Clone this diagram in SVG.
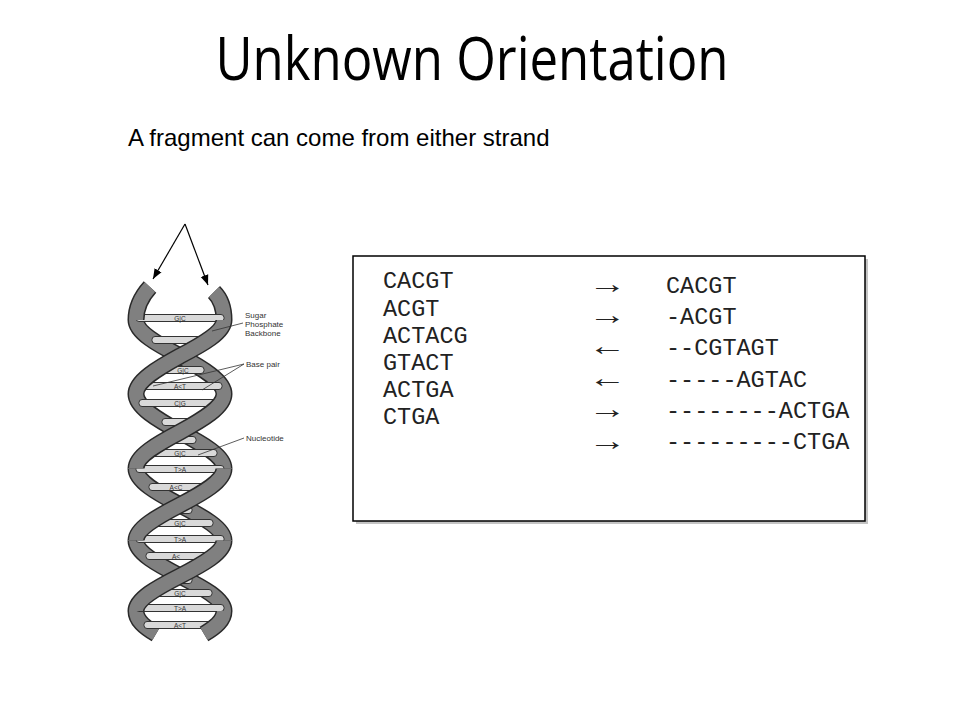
<svg xmlns="http://www.w3.org/2000/svg" width="960" height="720" viewBox="0 0 960 720">
<defs>
<style>
.title{font-family:"Open Sans","Liberation Sans",sans-serif;font-size:60px;fill:#000}
.sub{font-family:"Liberation Sans",Arial,sans-serif;font-size:24px;fill:#000}
.mono{font-family:"Liberation Mono","Courier New",monospace;font-size:23.5px;fill:#222}
.arr{font-family:"Liberation Serif","DejaVu Serif",serif;font-size:27px;fill:#222}
.ro{fill:none;stroke:#2a2a2a;stroke-width:17}
.ri{fill:none;stroke:#808080;stroke-width:14}
.bar{fill:#d9d9d9;stroke:#333;stroke-width:1}
.bl{font-family:"Liberation Sans",Arial,sans-serif;font-size:6.5px;fill:#333;text-anchor:middle}
.lab{font-family:"Liberation Sans",Arial,sans-serif;font-size:8px;fill:#333}
.lead{stroke:#333;stroke-width:0.8;fill:none}
.conn{stroke:#000;stroke-width:1.2;fill:none}
</style>
<marker id="ah" viewBox="0 0 10 10" refX="10" refY="5" markerWidth="10" markerHeight="10" markerUnits="userSpaceOnUse" orient="auto">
<path d="M0,1 L10,5 L0,9 z" fill="#000"/>
</marker>
<path id="b0" d="M214,292 C222,300 224,310 224,320"/>
<path id="b1" d="M136,320 C136,332.4 157.5,344.3 180,356 C202.5,368.4 224,380.9 224,394"/>
<path id="b2" d="M136,394 C136,407.1 157.5,419.6 180,432 C202.5,443.9 224,455.9 224,468.5"/>
<path id="b3" d="M136,468.5 C136,481.1 157.5,493.1 180,505 C202.5,516.6 224,528.3 224,540.5"/>
<path id="b4" d="M136,540.5 C136,552.7 157.5,564.4 180,576 C202.5,587.4 224,599 224,611"/>
<path id="b5" d="M136,611 C136,620 144,627 156,634"/>
<path id="f0" d="M150,287 C140,298 136,310 136,320"/>
<path id="f1" d="M224,320 C224,332.4 202.5,344.3 180,356 C157.5,368.4 136,380.9 136,394"/>
<path id="f2" d="M224,394 C224,407.1 202.5,419.6 180,432 C157.5,443.9 136,455.9 136,468.5"/>
<path id="f3" d="M224,468.5 C224,481.1 202.5,493.1 180,505 C157.5,516.6 136,528.3 136,540.5"/>
<path id="f4" d="M224,540.5 C224,552.7 202.5,564.4 180,576 C157.5,587.4 136,599 136,611"/>
<path id="f5" d="M224,611 C224,620 216,627 204,634"/>
</defs>
<rect width="960" height="720" fill="#fff"/>

<g id="title"><text class="title" x="472" y="80" text-anchor="middle" textLength="513" lengthAdjust="spacingAndGlyphs">Unknown Orientation</text></g>
<g id="subtitle"><text class="sub" x="128" y="146">A fragment can come from either strand</text></g>

<g id="helix">
<g id="helix-back">
<use href="#b0" class="ro"/><use href="#b0" class="ri"/>
<use href="#b1" class="ro"/><use href="#b1" class="ri"/>
<use href="#b2" class="ro"/><use href="#b2" class="ri"/>
<use href="#b3" class="ro"/><use href="#b3" class="ri"/>
<use href="#b4" class="ro"/><use href="#b4" class="ri"/>
<use href="#b5" class="ro"/><use href="#b5" class="ri"/>
</g>
<g id="base-pairs">
<rect class="bar" x="136" y="314.5" width="88" height="7" rx="3"/>
<rect class="bar" x="152" y="336.5" width="56" height="7" rx="3"/>
<rect class="bar" x="156" y="366.5" width="48" height="7" rx="3"/>
<rect class="bar" x="138" y="382.5" width="84" height="7" rx="3"/>
<rect class="bar" x="139" y="399.5" width="82" height="7" rx="3"/>
<rect class="bar" x="162" y="418.5" width="36" height="7" rx="3"/>
<rect class="bar" x="172" y="436.5" width="24" height="7" rx="3"/>
<rect class="bar" x="143" y="449.5" width="74" height="7" rx="3"/>
<rect class="bar" x="136" y="465.5" width="88" height="7" rx="3"/>
<rect class="bar" x="149" y="483.5" width="62" height="7" rx="3"/>
<rect class="bar" x="170" y="506.5" width="22" height="7" rx="3"/>
<rect class="bar" x="146" y="519.5" width="67" height="7" rx="3"/>
<rect class="bar" x="136" y="535.5" width="88" height="7" rx="3"/>
<rect class="bar" x="146" y="552.5" width="68" height="7" rx="3"/>
<rect class="bar" x="170" y="576.5" width="22" height="7" rx="3"/>
<rect class="bar" x="146" y="589.5" width="66" height="7" rx="3"/>
<rect class="bar" x="136" y="604.5" width="88" height="7" rx="3"/>
<rect class="bar" x="144" y="621.5" width="72" height="7" rx="3"/>
<text class="bl" x="180" y="320.5">G|C</text>
<text class="bl" x="183" y="372.5">G|C</text>
<text class="bl" x="180" y="388.5">A&lt;T</text>
<text class="bl" x="180" y="405.5">C|G</text>
<text class="bl" x="180" y="455.5">G|C</text>
<text class="bl" x="180" y="471.5">T&gt;A</text>
<text class="bl" x="176" y="489.5">A&lt;C</text>
<text class="bl" x="180" y="525.5">G|C</text>
<text class="bl" x="180" y="541.5">T&gt;A</text>
<text class="bl" x="176" y="558.5">A&lt;</text>
<text class="bl" x="180" y="595.5">G|C</text>
<text class="bl" x="180" y="610.5">T&gt;A</text>
<text class="bl" x="180" y="627.5">A&lt;T</text>
</g>
<g id="helix-front">
<use href="#f0" class="ro"/><use href="#f0" class="ri"/>
<use href="#f1" class="ro"/><use href="#f1" class="ri"/>
<use href="#f2" class="ro"/><use href="#f2" class="ri"/>
<use href="#f3" class="ro"/><use href="#f3" class="ri"/>
<use href="#f4" class="ro"/><use href="#f4" class="ri"/>
<use href="#f5" class="ro"/><use href="#f5" class="ri"/>
</g>
<g id="helix-labels">
<text class="lab" x="245" y="318">Sugar</text>
<text class="lab" x="245" y="327">Phosphate</text>
<text class="lab" x="245" y="336">Backbone</text>
<path class="lead" d="M243,323 L212,331"/>
<text class="lab" x="246" y="367">Base pair</text>
<path class="lead" d="M244,364 L153,386 M244,364 L202,390"/>
<text class="lab" x="246" y="441">Nucleotide</text>
<path class="lead" d="M244,438 L198,455"/>
</g>
</g>

<g id="connectors">
<path class="conn" d="M185,224 L153,279" marker-end="url(#ah)"/>
<path class="conn" d="M185,224 L208,285" marker-end="url(#ah)"/>
</g>

<g id="alignment-box">
<rect x="356" y="259" width="512" height="265" fill="#c4c4c4"/>
<rect x="353" y="256" width="512" height="265" fill="#fff" stroke="#000" stroke-width="1.5"/>
<g id="fragments">
<text class="mono" x="383" y="288">CACGT</text>
<text class="mono" x="383" y="315.5">ACGT</text>
<text class="mono" x="383" y="342.5">ACTACG</text>
<text class="mono" x="383" y="370">GTACT</text>
<text class="mono" x="383" y="397">ACTGA</text>
<text class="mono" x="383" y="424">CTGA</text>
</g>
<g id="orientations">
<text class="arr" transform="translate(588,292.6) scale(1.41,1)">→</text>
<text class="arr" transform="translate(588,323.6) scale(1.41,1)">→</text>
<text class="arr" transform="translate(588,355) scale(1.41,1)">←</text>
<text class="arr" transform="translate(588,387) scale(1.41,1)">←</text>
<text class="arr" transform="translate(588,417.6) scale(1.41,1)">→</text>
<text class="arr" transform="translate(588,450) scale(1.41,1)">→</text>
</g>
<g id="aligned">
<text class="mono" x="666" y="293">CACGT</text>
<text class="mono" x="666" y="324">-ACGT</text>
<text class="mono" x="666" y="355">--CGTAGT</text>
<text class="mono" x="666" y="387">-----AGTAC</text>
<text class="mono" x="666" y="418">--------ACTGA</text>
<text class="mono" x="666" y="449">---------CTGA</text>
</g>
</g>
</svg>
